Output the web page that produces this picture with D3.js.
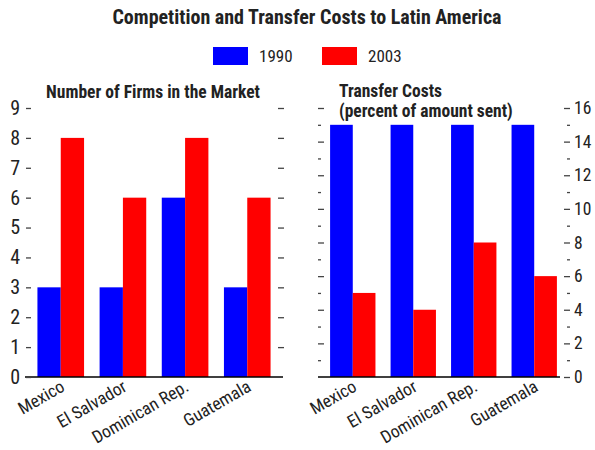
<!DOCTYPE html>
<html>
<head>
<meta charset="utf-8">
<script src="https://cdn.jsdelivr.net/npm/d3@7"></script>
<style>
  body { margin: 0; background: #fff; }
  svg text { font-family: "Liberation Sans Narrow", "Roboto Condensed", "DejaVu Sans Condensed", sans-serif; fill: #222; }
  .tick line { stroke: #444; stroke-width: 1.3; }
</style>
</head>
<body>
<div id="chart"></div>
<script>
/* data */
var countries = ["Mexico", "El Salvador", "Dominican Rep.", "Guatemala"];
var years = ["1990", "2003"];
var firms1990 = [3, 3, 6, 3];
var firms2003 = [8, 6, 8, 6];
var cost1990 = [15, 15, 15, 15];
var cost2003 = [5, 4, 8, 6];
var firmTicks = [0, 1, 2, 3, 4, 5, 6, 7, 8, 9];
var costTicks = [0, 2, 4, 6, 8, 10, 12, 14, 16];
var costMinor = [1, 3, 5, 7, 9, 11, 13, 15];

var colors = d3.scaleOrdinal().domain(years).range(["#0000ff", "#ff0000"]);

var svg = d3.select("#chart")
    .append("svg")
    .attr("width", 595)
    .attr("height", 450);

/*Main title*/
svg.append("text")
    .attr("x", 307)
    .attr("y", 24)
    .attr("text-anchor", "middle")
    .attr("font-size", 20)
    .attr("font-weight", "bold")
    .text("Competition and Transfer Costs to Latin America");

/*Legend*/
var legend = svg.append("g").selectAll("g")
    .data(years)
    .join("g")
    .attr("transform", function(d, i) { return "translate(" + (213 + i * 109) + ",47)"; });
legend.append("rect")
    .attr("width", 35)
    .attr("height", 18)
    .attr("fill", function(d) { return colors(d); });
legend.append("text")
    .attr("x", 46)
    .attr("y", 15)
    .attr("font-size", 17)
    .text(function(d) { return d; });

var baseY = 377;

function drawPanel(opts) {
    var x0 = d3.scaleBand().domain(countries).range(opts.xRange).paddingInner(0.25).paddingOuter(0.2);
    var x1 = d3.scaleBand().domain(years).range([0, x0.bandwidth()]);
    var y = d3.scaleLinear().domain(opts.yDomain).range([baseY, 108]);

    var rows = countries.map(function(c, i) {
        return {country: c, vals: [{year: years[0], v: opts.a[i]}, {year: years[1], v: opts.b[i]}]};
    });

    var g = svg.append("g");
    g.selectAll(".group")
        .data(rows)
        .join("g")
        .attr("class", "group")
        .attr("transform", function(d) { return "translate(" + x0(d.country) + ",0)"; })
        .selectAll("rect")
        .data(function(d) { return d.vals; })
        .join("rect")
        .attr("x", function(d) { return x1(d.year); })
        .attr("y", function(d) { return y(d.v); })
        .attr("width", x1.bandwidth())
        .attr("height", function(d) { return baseY - y(d.v); })
        .attr("fill", function(d) { return colors(d.year); });

    /*baseline*/
    g.append("line")
        .attr("x1", opts.lineRange[0]).attr("x2", opts.lineRange[1])
        .attr("y1", baseY).attr("y2", baseY)
        .attr("stroke", "#000").attr("stroke-width", 1.5);

    /*category labels*/
    g.selectAll(".cat")
        .data(countries)
        .join("text")
        .attr("class", "cat")
        .attr("text-anchor", "end")
        .attr("font-size", 17.5)
        .attr("transform", function(d) {
            return "translate(" + (x0(d) + x0.bandwidth() / 2 + 5) + "," + (baseY + 13) + ") rotate(-30)";
        })
        .text(function(d) { return d; });

    return {g: g, y: y};
}

/*Left panel*/
var left = drawPanel({xRange: [25, 283], lineRange: [25, 283], yDomain: [0, 9], a: firms1990, b: firms2003});

left.g.append("g")
    .attr("transform", "translate(31,0)")
    .call(d3.axisLeft(left.y).tickValues(firmTicks).tickSize(5).tickPadding(6).tickFormat(d3.format("d")))
    .call(function(a) { a.select(".domain").remove(); })
    .selectAll("text").attr("font-size", 20).attr("fill", "#222");

left.g.append("g")
    .attr("transform", "translate(278,0)")
    .call(d3.axisRight(left.y).tickValues(firmTicks.slice(1)).tickSize(6).tickFormat(""))
    .call(function(a) { a.select(".domain").remove(); });

left.g.append("text")
    .attr("x", 153)
    .attr("y", 98)
    .attr("text-anchor", "middle")
    .attr("font-size", 17.5)
    .attr("font-weight", "bold")
    .text("Number of Firms in the Market");

/*Right panel*/
var right = drawPanel({xRange: [318, 569], lineRange: [318, 560], yDomain: [0, 16], a: cost1990, b: cost2003});

right.g.append("g")
    .attr("transform", "translate(564,0)")
    .call(d3.axisRight(right.y).tickValues(costTicks).tickSize(6).tickPadding(4).tickFormat(d3.format("d")))
    .call(function(a) { a.select(".domain").remove(); })
    .selectAll("text").attr("font-size", 17.5).attr("fill", "#222");

right.g.append("g")
    .attr("transform", "translate(567,0)")
    .call(d3.axisRight(right.y).tickValues(costMinor).tickSize(3).tickFormat(""))
    .call(function(a) { a.select(".domain").remove(); });

right.g.append("g")
    .attr("transform", "translate(318,0)")
    .call(d3.axisRight(right.y).tickValues(costTicks.slice(1)).tickSize(6).tickFormat(""))
    .call(function(a) { a.select(".domain").remove(); });

right.g.append("g")
    .attr("transform", "translate(318,0)")
    .call(d3.axisRight(right.y).tickValues(costMinor).tickSize(3).tickFormat(""))
    .call(function(a) { a.select(".domain").remove(); });

var rt = right.g.append("text")
    .attr("x", 339)
    .attr("y", 97)
    .attr("font-size", 17.5)
    .attr("font-weight", "bold");
rt.append("tspan").attr("x", 339).text("Transfer Costs");
rt.append("tspan").attr("x", 339).attr("dy", 20).text("(percent of amount sent)");
</script>
</body>
</html>
